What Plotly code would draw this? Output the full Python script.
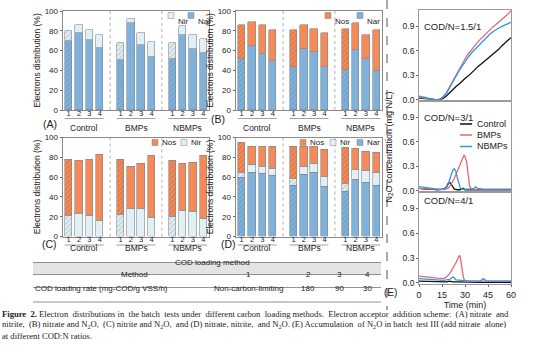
import plotly.graph_objects as go

W, H = 554, 354
def X(p): return p / W
def Y(p): return 1 - p / H

BLUE = "#7fb1db"
LIGHT = "#e2eff5"
ORANGE = "#f38a57"
EDGE = "#7d8790"

# ---------------- bar data ----------------
positions = [0, 1, 2, 3, 5, 6, 7, 8, 10, 11, 12, 13]
bar_ticks = ["1", "2", "3", "4"] * 3
groups = ["Control", "BMPs", "NBMPs"]
group_start = [0, 5, 10]
hatch = ["/", "", "", ""] * 3

A_nar = [70, 78, 71, 63, 51, 88, 66, 54, 52, 76, 62, 58]
A_nir = [10, 8, 10, 13, 17, 4, 12, 15, 16, 9, 14, 14]

B_nar = [52, 65, 57, 49, 43, 62, 59, 43, 40, 61, 52, 39]
B_nos = [34, 24, 29, 32, 38, 24, 23, 35, 42, 27, 24, 42]

C_nir = [21, 23, 21, 16, 22, 28, 28, 19, 20, 26, 25, 18]
C_nos = [57, 54, 57, 67, 56, 43, 46, 63, 57, 48, 50, 64]

D_nar = [60, 65, 64, 62, 52, 63, 65, 51, 45, 58, 55, 52]
D_nir = [5, 8, 7, 7, 7, 8, 9, 10, 9, 10, 12, 13]
D_nos = [30, 18, 20, 22, 32, 20, 17, 27, 36, 21, 19, 20]

# ---------------- N2O data (panel E) ----------------
e1_t = [0, 2, 4, 6, 8, 10, 12, 14, 16, 18, 20, 22, 24, 26, 28, 30, 32, 34, 36, 38,
        40, 42, 44, 46, 48, 50, 52, 54, 56, 58, 60]
e1_bmps = [0.03, 0.025, 0.02, 0.015, 0.01, 0.005, 0.0, 0.01, 0.04, 0.09, 0.16, 0.23, 0.30, 0.37, 0.43,
           0.50, 0.56, 0.61, 0.66, 0.70, 0.74, 0.78, 0.82, 0.86, 0.89, 0.92, 0.95, 0.98, 1.01, 1.05, 1.09]
e1_nbmps = [0.045, 0.04, 0.03, 0.02, 0.01, 0.005, 0.0, 0.01, 0.04, 0.08, 0.15, 0.22, 0.29, 0.35, 0.41,
            0.47, 0.52, 0.57, 0.61, 0.65, 0.69, 0.73, 0.77, 0.80, 0.83, 0.86, 0.88, 0.90, 0.92, 0.94, 0.95]
e1_control = [0.02, 0.02, 0.015, 0.01, 0.005, 0.0, 0.0, 0.005, 0.02, 0.05, 0.09, 0.13, 0.16, 0.19, 0.23,
              0.26, 0.29, 0.32, 0.36, 0.40, 0.43, 0.46, 0.49, 0.52, 0.55, 0.58, 0.62, 0.66, 0.70, 0.73, 0.76]

e2_bmps_t = [0, 4, 8, 12, 16, 19, 21, 23, 25, 27, 29, 29.5, 31, 32, 33, 34, 38, 44, 50, 56, 60]
e2_bmps = [0.03, 0.025, 0.02, 0.015, 0.015, 0.03, 0.08, 0.15, 0.24, 0.34, 0.43, 0.44, 0.36, 0.2, 0.06,
           0.02, 0.01, 0.01, 0.01, 0.01, 0.01]
e2_nbmps_t = [0, 4, 8, 12, 16, 18, 19, 20, 21, 22, 23, 24, 25, 26, 27, 28, 32, 36, 37, 38, 42, 48, 54, 60]
e2_nbmps = [0.05, 0.04, 0.03, 0.02, 0.02, 0.04, 0.08, 0.14, 0.2, 0.25, 0.27, 0.24, 0.16, 0.08, 0.03,
            0.02, 0.02, 0.03, 0.05, 0.03, 0.02, 0.02, 0.02, 0.02]
e2_control_t = [0, 4, 8, 12, 16, 18, 19, 20, 21, 22, 23, 26, 29, 30, 31, 36, 44, 52, 60]
e2_control = [0.03, 0.02, 0.02, 0.01, 0.02, 0.05, 0.09, 0.10, 0.08, 0.04, 0.02, 0.01, 0.03, 0.01,
              0.01, 0.01, 0.01, 0.01, 0.01]

e3_bmps_t = [0, 4, 8, 12, 16, 18, 20, 22, 24, 26, 26.5, 27, 28, 29, 30, 34, 40, 46, 52, 60]
e3_bmps = [0.08, 0.07, 0.06, 0.055, 0.05, 0.07, 0.11, 0.17, 0.24, 0.32, 0.33, 0.30, 0.18, 0.06, 0.02,
           0.02, 0.02, 0.02, 0.02, 0.02]
e3_nbmps_t = [0, 4, 8, 12, 16, 20, 21, 22, 23, 24, 28, 34, 40, 41, 42, 43, 44, 48, 54, 60]
e3_nbmps = [0.05, 0.045, 0.04, 0.035, 0.03, 0.04, 0.06, 0.07, 0.06, 0.035, 0.03, 0.02, 0.02, 0.04,
            0.05, 0.04, 0.02, 0.02, 0.02, 0.02]
e3_control_t = [0, 6, 12, 18, 20, 22, 26, 32, 40, 48, 54, 60]
e3_control = [0.02, 0.015, 0.01, 0.01, 0.02, 0.01, 0.01, 0.005, 0.005, 0.005, 0.005, 0.005]

e_ticks = [0, 15, 30, 45, 60]
e_yticks = [0, 0.3, 0.6, 0.9]
e_yticktext = ["0.0", "0.3", "0.6", "0.9"]
e_labels = ["COD/N=1.5/1", "COD/N=3/1", "COD/N=4/1"]
series_names = ["Control", "BMPs", "NBMPs"]
LINE_COL = {"Control": "#111111", "BMPs": "#e8676c", "NBMPs": "#2f97e4"}

# table
table_methods = ["1", "2", "3", "4"]
table_rates = ["Non-carbon-limiting", "180", "90", "30"]

fig = go.Figure()

FONT = "Liberation Sans, Arial, sans-serif"

# ------------- bar panels -------------
bar_panels = [
    (1, (63, 209), (11, 110), [(A_nar, BLUE, "#5b87b0"), (A_nir, LIGHT, "#8e9aa2")]),
    (2, (236, 382), (11, 110), [(B_nar, BLUE, "#5b87b0"), (B_nos, ORANGE, "#b95a30")]),
    (3, (63, 209), (137.5, 236.5), [(C_nir, LIGHT, "#8e9aa2"), (C_nos, ORANGE, "#b95a30")]),
    (4, (236, 382), (137.5, 236.5), [(D_nar, BLUE, "#5b87b0"), (D_nir, LIGHT, "#8e9aa2"), (D_nos, ORANGE, "#b95a30")]),
]

layout_axes = {}
shapes = []
annotations = []

for idx, xd, yd, series in bar_panels:
    xn = "x" if idx == 1 else f"x{idx}"
    yn = "y" if idx == 1 else f"y{idx}"
    for vals, col, fg in series:
        fig.add_trace(go.Bar(
            x=positions, y=vals, width=0.72, xaxis=xn, yaxis=yn, showlegend=False,
            marker=dict(color=col, line=dict(color=EDGE, width=0.6),
                        pattern=dict(shape=hatch, fgcolor=fg, size=3.5, solidity=0.3)),
        ))
    layout_axes["xaxis" if idx == 1 else f"xaxis{idx}"] = dict(
        domain=[X(xd[0]), X(xd[1])], range=[-0.55, 13.55], anchor=yn, automargin=False,
        tickvals=positions, ticktext=bar_ticks, tickfont=dict(size=7.5, color="#222"),
        ticklabelstandoff=-4,
        ticks="", showline=True, linecolor="#8a8a8a", linewidth=0.8, mirror=True,
        showgrid=False, zeroline=False, fixedrange=True)
    layout_axes["yaxis" if idx == 1 else f"yaxis{idx}"] = dict(
        domain=[Y(yd[1]), Y(yd[0])], range=[0, 100], anchor=xn, automargin=False,
        tickvals=[0, 20, 40, 60, 80, 100], ticks="outside", ticklen=2.5, tickwidth=0.8,
        tickcolor="#666", tickfont=dict(size=8, color="#222"),
        showline=True, linecolor="#8a8a8a", linewidth=0.8, mirror=True,
        showgrid=False, zeroline=False,
        title=dict(text="Electrons distribution (%)", font=dict(size=8.5, color="#222"), standoff=2))
    for sx in (4, 9):
        shapes.append(dict(type="line", xref=xn, yref=f"{yn} domain", x0=sx, x1=sx, y0=0, y1=1,
                           line=dict(color="#999", width=0.8, dash="dot")))
    for g, gs in zip(groups, group_start):
        shapes.append(dict(type="line", xref=xn, yref="paper", x0=gs - 0.38, x1=gs + 3.38,
                           y0=Y(yd[1] + 8.5), y1=Y(yd[1] + 8.5), line=dict(color="#777", width=0.7)))
        annotations.append(dict(text=g, x=gs + 1.5, y=Y(yd[1] + 18), xref=xn, yref="paper",
                                showarrow=False, font=dict(size=8.5, color="#222")))

for txt, px_, py_ in [("(A)", 41, 124), ("(B)", 218, 119), ("(C)", 40, 252), ("(D)", 228, 252)]:
    annotations.append(dict(text=txt, x=X(px_), y=Y(py_), xref="paper", yref="paper",
                            showarrow=False, font=dict(size=10.5, color="#222")))

def legend(items, y, size=6):
    for (sx, col, label) in items:
        shapes.append(dict(type="rect", xref="paper", yref="paper", x0=X(sx), x1=X(sx + size),
                           y0=Y(y + size / 2), y1=Y(y - size / 2), fillcolor=col,
                           line=dict(color=EDGE, width=0.5)))
        annotations.append(dict(text=label, x=X(sx + size + 1.5), y=Y(y), xref="paper", yref="paper",
                                xanchor="left", showarrow=False, font=dict(size=8, color="#222")))

legend([(168, LIGHT, "Nir"), (188, BLUE, "Nar")], 15.5)
legend([(325, ORANGE, "Nos"), (357, BLUE, "Nar")], 15.5)
legend([(152, ORANGE, "Nos"), (181, LIGHT, "Nir")], 142.5)
legend([(300, ORANGE, "Nos"), (330, LIGHT, "Nir"), (357, BLUE, "Nar")], 142.5)

# ------------- panel E -------------
e_data = [
    [(e1_t, e1_control), (e1_t, e1_bmps), (e1_t, e1_nbmps)],
    [(e2_control_t, e2_control), (e2_bmps_t, e2_bmps), (e2_nbmps_t, e2_nbmps)],
    [(e3_control_t, e3_control), (e3_bmps_t, e3_bmps), (e3_nbmps_t, e3_nbmps)],
]
e_dom = [(10, 101), (101, 192), (192, 284)]
for k in range(3):
    idx = 5 + k
    xn, yn = f"x{idx}", f"y{idx}"
    for name, (tt, vv) in zip(series_names, e_data[k]):
        fig.add_trace(go.Scatter(x=tt, y=vv, mode="lines", xaxis=xn, yaxis=yn, showlegend=False,
                                 line=dict(color=LINE_COL[name], width=1.3)))
    xa = dict(
        domain=[X(419), X(511)], range=[0, 60], anchor=yn, automargin=False,
        showline=True, linecolor="#9a9a9a", linewidth=0.8,
        mirror=True, showgrid=False, zeroline=False)
    if k == 2:
        xa.update(tickvals=e_ticks, ticks="outside", ticklen=2, tickcolor="#666",
                  tickfont=dict(size=9, color="#222"),
                  title=dict(text="Time (min)", font=dict(size=9, color="#222"), standoff=0))
    else:
        xa.update(tickvals=[], showticklabels=False, ticks="")
    layout_axes[f"xaxis{idx}"] = xa
    layout_axes[f"yaxis{idx}"] = dict(
        domain=[Y(e_dom[k][1]), Y(e_dom[k][0])], range=[-0.015, 1.1], anchor=xn, automargin=False,
        tickvals=e_yticks, ticktext=e_yticktext, ticks="outside", ticklen=2, tickcolor="#666",
        tickfont=dict(size=8.5, color="#222"), showline=True, linecolor="#9a9a9a", linewidth=0.8,
        mirror=True, showgrid=False, zeroline=False)
    annotations.append(dict(text=e_labels[k], x=X(422), y=Y(e_dom[k][0] + 8.5), xref="paper", yref="paper",
                            xanchor="left", showarrow=False, font=dict(size=9.5, color="#222")))

for name, ly in zip(series_names, [124, 135, 146.5]):
    shapes.append(dict(type="line", xref="paper", yref="paper", x0=X(460), x1=X(472), y0=Y(ly), y1=Y(ly),
                       line=dict(color=LINE_COL[name], width=1.5)))
    annotations.append(dict(text=name, x=X(475), y=Y(ly), xref="paper", yref="paper", xanchor="left",
                            showarrow=False, font=dict(size=9, color="#222")))

annotations.append(dict(text="N<sub>2</sub>O concentration (mg N/L)", x=X(396), y=Y(147), xref="paper",
                        yref="paper", textangle=-90, showarrow=False, font=dict(size=9, color="#222")))
annotations.append(dict(text="(E)", x=X(399), y=Y(300), xref="paper", yref="paper",
                        showarrow=False, font=dict(size=10, color="#222")))

shapes.append(dict(type="line", xref="paper", yref="paper", x0=X(387), x1=X(387), y0=Y(0), y1=Y(310),
                   line=dict(color="#555", width=1, dash="dash")))

# ------------- table -------------
shapes.append(dict(type="rect", xref="paper", yref="paper", x0=X(33), x1=X(381), y0=Y(274.5), y1=Y(262.5),
                   fillcolor="#e4e4e4", line=dict(width=0)))
for ly in (262.5, 274.5, 287.5, 302):
    shapes.append(dict(type="line", xref="paper", yref="paper", x0=X(33), x1=X(381), y0=Y(ly), y1=Y(ly),
                       line=dict(color="#777", width=0.8)))
annotations.append(dict(text="COD loading method", x=X(212), y=Y(268.5), xref="paper", yref="paper",
                        showarrow=False, font=dict(size=8, color="#222")))
annotations.append(dict(text="Method", x=X(119), y=Y(281), xref="paper", yref="paper",
                        showarrow=False, font=dict(size=8, color="#222")))
annotations.append(dict(text="COD loading rate (mg-COD/g VSS/h)", x=X(33), y=Y(295), xref="paper",
                        yref="paper", xanchor="left", showarrow=False, font=dict(size=8, color="#222")))
for m, r, cx in zip(table_methods, table_rates, [248, 308, 339, 367]):
    annotations.append(dict(text=m, x=X(cx), y=Y(281), xref="paper", yref="paper",
                            showarrow=False, font=dict(size=8, color="#222")))
    annotations.append(dict(text=r, x=X(cx), y=Y(295), xref="paper", yref="paper",
                            showarrow=False, font=dict(size=8, color="#222")))

# ------------- caption -------------
def spread(s, every):
    parts = s.split(" ")
    out = parts[0]
    for i, p in enumerate(parts[1:]):
        out += (" \u00a0" if i % every == 0 else " ") + p
    return out

cap = [
    spread("<b>Figure 2.</b> Electron distributions in the batch tests under different carbon loading methods. Electron acceptor addition scheme: (A) nitrate and", 2),
    spread("nitrite, (B) nitrate and N<sub>2</sub>O, (C) nitrite and N<sub>2</sub>O, and (D) nitrate, nitrite, and N<sub>2</sub>O. (E) Accumulation of N<sub>2</sub>O in batch test III (add nitrate alone)", 4),
    "at different COD:N ratios.",
]
for i, line in enumerate(cap):
    annotations.append(dict(text=line, x=X(1), y=Y(320 + 11.1 * i), xref="paper", yref="paper",
                            xanchor="left", showarrow=False, borderpad=0,
                            font=dict(size=8.6, color="#222", family="Liberation Serif, Times New Roman, serif")))

fig.update_layout(
    width=W, height=H, margin=dict(l=0, r=0, t=0, b=0, pad=0, autoexpand=False),
    paper_bgcolor="white", plot_bgcolor="white",
    barmode="stack", bargap=0, font=dict(family=FONT, color="#222"), showlegend=False,
    shapes=shapes, annotations=annotations, **layout_axes)

fig.write_html("out.html")
